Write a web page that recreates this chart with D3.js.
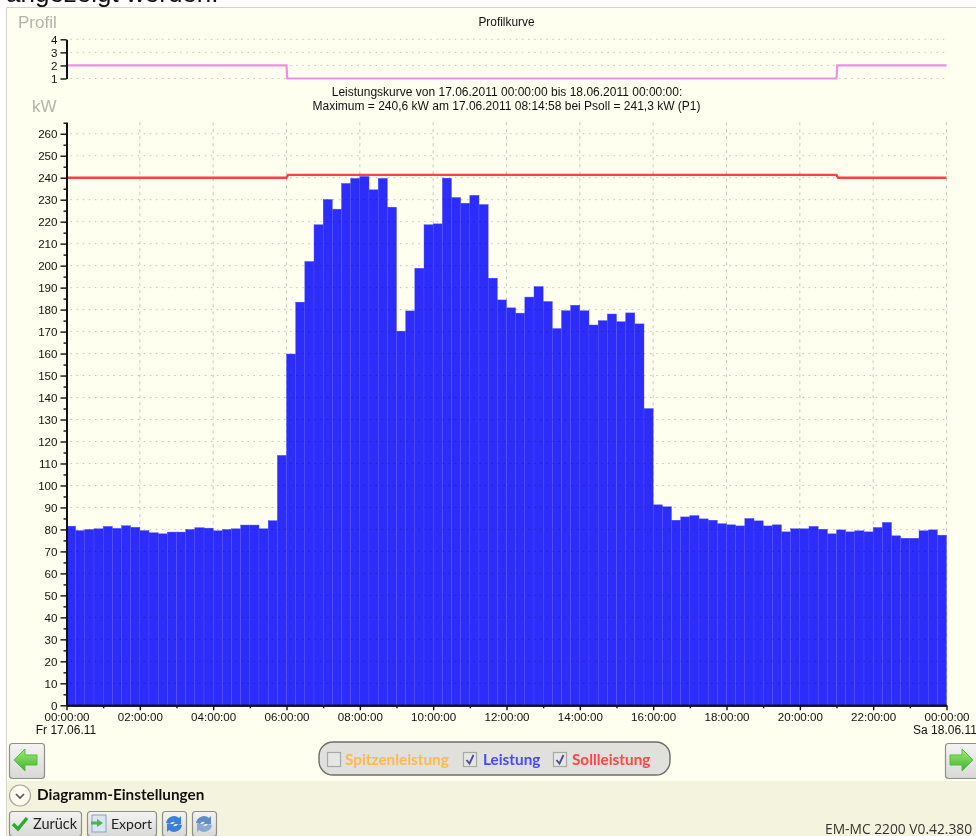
<!DOCTYPE html>
<html>
<head>
<meta charset="utf-8">
<title>Leistungskurve</title>
<script src="https://cdn.jsdelivr.net/npm/d3@7"></script>
<style>
  html, body { margin: 0; padding: 0; background: #fff; overflow: hidden; }
  svg { display: block; filter: blur(0.35px); }
  text { font-family: "Liberation Sans", Arial, sans-serif; fill: #111; }
  .tick text { font-size: 11.6px; }
  .ui { font-family: Lato, "Open Sans", sans-serif; }
</style>
</head>
<body>
<div id="my_dataviz"></div>
<script>
// Data
// Leistung in kW, one value for each 15 minutes of the day
var leistung = [
  81.5, 79.5, 80, 80.3, 81.4, 80.5, 81.7, 81, 79.5, 78.5, 78, 78.8,
  78.8, 80, 80.8, 80.6, 79.4, 80, 80.3, 82, 82, 80.3, 84, 113.7,
  159.8, 183.4, 201.9, 218.6, 230.1, 225.7, 237.4, 239.7, 240.6, 234.5, 239.7, 226.6,
  170.2, 179.4, 198.8, 218.6, 219, 239.8, 231, 228.4, 232, 227.8, 194.3, 184.4,
  180.8, 178.4, 185.7, 190.5, 183.7, 171.4, 179.5, 182, 179.5, 173, 175, 178,
  174.5, 178.5, 173.5, 135, 91.2, 90.3, 84.2, 85.7, 86.3, 84.8, 84.2, 82.6,
  82.1, 81.6, 85, 83.9, 81.6, 82.1, 78.9, 80.3, 80.3, 81.4, 80.1, 78,
  79.8, 78.9, 79.4, 78.9, 80.9, 83.2, 77.1, 76, 76, 79.4, 79.8, 77.4
];

// Sollleistung, hours of the day and kW
var sollStunden = [0, 6, 6.04, 21, 21.04, 24];
var sollWerte = [240, 240, 241.3, 241.3, 240, 240];

// Profil, hours of the day and profile number
var profilStunden = [0, 6, 6.02, 21, 21.02, 24];
var profilWerte = [2, 2, 1, 1, 2, 2];

var profilTicks = [1, 2, 3, 4];
var leistungTicks = d3.range(0, 261, 10);
var leistungMinorTicks = d3.range(5, 266, 10);
var legendLabels = ["Spitzenleistung", "Leistung", "Sollleistung"];

var width = 976, height = 836;
var chartLeft = 66.5, chartRight = 946.5;

var svg = d3.select("#my_dataviz")
  .append("svg")
    .attr("width", width)
    .attr("height", height);

// Gradients for the arrow buttons
var defs = svg.append("defs");
var green = defs.append("linearGradient").attr("id", "green").attr("x2", 0).attr("y2", 1);
green.append("stop").attr("offset", 0).attr("stop-color", "#a4ee70");
green.append("stop").attr("offset", 1).attr("stop-color", "#3cb034");
var btn = defs.append("linearGradient").attr("id", "btn").attr("x2", 0).attr("y2", 1);
btn.append("stop").attr("offset", 0).attr("stop-color", "#f4f4f2");
btn.append("stop").attr("offset", 1).attr("stop-color", "#d8d8d6");

// Window background
svg.append("text").attr("x", 6).attr("y", 2)
  .style("font-size", "26px").text("angezeigt werden.");
svg.append("rect").attr("x", 6).attr("y", 8).attr("width", 970).attr("height", 828)
  .attr("fill", "#fffff0");
svg.append("path").attr("d", "M6.5,836V7.5H976").attr("fill", "none").attr("stroke", "#d4d4c8");
svg.append("rect").attr("x", 7).attr("y", 781).attr("width", 969).attr("height", 55)
  .attr("fill", "#f4f4de");

// Scales
var start = new Date(2011, 5, 17, 0, 0, 0);
var end = new Date(2011, 5, 18, 0, 0, 0);
function stunde(h) { return new Date(start.getTime() + h * 3600000); }

var x = d3.scaleTime().domain([start, end]).range([chartLeft, chartRight]);
var y = d3.scaleLinear().domain([0, 265.2]).range([705.3, 122.3]);
var yProfil = d3.scaleLinear().domain([1, 4]).range([78.5, 39.3]);

var twoHours = d3.range(0, 25, 2).map(stunde);
var oddHours = d3.range(1, 24, 2).map(stunde);

// Vertical grid, behind the bars
svg.append("g").selectAll("line")
  .data(twoHours.slice(1))
  .enter()
  .append("line")
    .attr("x1", function(d) { return x(d); })
    .attr("x2", function(d) { return x(d); })
    .attr("y1", y(265.2))
    .attr("y2", y(0))
    .attr("stroke", "#c8c8bc")
    .attr("stroke-dasharray", "3 4");

// Bars
svg.append("g").selectAll("rect")
  .data(leistung)
  .enter()
  .append("rect")
    .attr("x", function(d, i) { return x(stunde(i / 4)); })
    .attr("y", function(d) { return y(d); })
    .attr("width", function(d, i) { return x(stunde((i + 1) / 4)) - x(stunde(i / 4)); })
    .attr("height", function(d) { return y(0) - y(d); })
    .attr("fill", "#2d2dfb")
    .attr("stroke", "#4f4fff")
    .attr("stroke-width", 0.4);

// Horizontal grids, they stay visible over the bars
function hGrid(values, scale) {
  svg.append("g").selectAll("line")
    .data(values)
    .enter()
    .append("line")
      .attr("x1", chartLeft + 4)
      .attr("x2", chartRight)
      .attr("y1", function(d) { return scale(d); })
      .attr("y2", function(d) { return scale(d); })
      .attr("stroke", "#000")
      .attr("stroke-opacity", 0.24)
      .attr("stroke-dasharray", "1.5 4.6");
}
hGrid(leistungTicks.slice(1), y);
hGrid(profilTicks, yProfil);

// Soll and profile lines
var sollLine = d3.line()
  .x(function(d) { return x(stunde(d)); })
  .y(function(d, i) { return y(sollWerte[i]); });
svg.append("path")
  .attr("d", sollLine(sollStunden))
  .attr("fill", "none")
  .attr("stroke", "#ff4040")
  .attr("stroke-width", 2.4);

var profilLine = d3.line()
  .x(function(d) { return x(stunde(d)); })
  .y(function(d, i) { return yProfil(profilWerte[i]); });
svg.append("path")
  .attr("d", profilLine(profilStunden))
  .attr("fill", "none")
  .attr("stroke", "#ee8ee6")
  .attr("stroke-width", 2.2);

// Axes
function styleAxis(g) {
  g.selectAll("path, line").attr("stroke", "#111");
  g.select(".domain").attr("stroke-width", 2);
  g.selectAll(".tick line").attr("stroke-width", 1.4);
  g.attr("font-family", null).attr("font-size", null);
}

svg.append("g")
  .attr("transform", "translate(" + chartLeft + ",0)")
  .call(d3.axisLeft(y).tickValues(leistungMinorTicks).tickSize(3).tickSizeOuter(0).tickFormat(""))
  .call(styleAxis);
svg.append("g")
  .attr("transform", "translate(" + chartLeft + ",0)")
  .call(d3.axisLeft(y).tickValues(leistungTicks).tickSize(6).tickSizeOuter(0).tickPadding(3))
  .call(styleAxis);
svg.append("g")
  .attr("transform", "translate(" + chartLeft + ",0)")
  .call(d3.axisLeft(yProfil).tickValues(profilTicks).tickSize(6).tickSizeOuter(0).tickPadding(3)
    .tickFormat(d3.format("d")))
  .call(styleAxis);

svg.append("g")
  .attr("transform", "translate(0," + y(0) + ")")
  .call(d3.axisBottom(x).tickValues(oddHours).tickSize(3).tickSizeOuter(0).tickFormat(""))
  .call(styleAxis);
svg.append("g")
  .attr("transform", "translate(0," + y(0) + ")")
  .call(d3.axisBottom(x).tickValues(twoHours).tickSize(5).tickSizeOuter(0).tickPadding(2)
    .tickFormat(d3.timeFormat("%H:%M:%S")))
  .call(styleAxis);

svg.append("text").attr("x", 66).attr("y", 734).attr("text-anchor", "middle")
  .style("font-size", "12px").text("Fr 17.06.11");
svg.append("text").attr("x", 945).attr("y", 734).attr("text-anchor", "middle")
  .style("font-size", "12px").text("Sa 18.06.11");

// Titles
svg.append("text").attr("x", 18).attr("y", 28)
  .style("font-size", "17px").style("fill", "#b4b4ac").text("Profil");
svg.append("text").attr("x", 32).attr("y", 112)
  .style("font-size", "17px").style("fill", "#b4b4ac").text("kW");
svg.append("text").attr("x", 506.5).attr("y", 26).attr("text-anchor", "middle")
  .style("font-size", "11.9px").text("Profilkurve");
svg.append("text").attr("x", 507).attr("y", 95.5).attr("text-anchor", "middle")
  .style("font-size", "12px").text("Leistungskurve von 17.06.2011 00:00:00 bis 18.06.2011 00:00:00:");
svg.append("text").attr("x", 506.5).attr("y", 110).attr("text-anchor", "middle")
  .style("font-size", "12px").text("Maximum = 240,6 kW am 17.06.2011 08:14:58 bei Psoll = 241,3 kW (P1)");

// Buttons
function button(bx, by, w, h, r) {
  svg.append("rect").attr("x", bx + 0.5).attr("y", by + 0.5).attr("width", w).attr("height", h)
    .attr("rx", r).attr("fill", "url(#btn)").attr("stroke", "#8e8e8a").attr("stroke-width", 1.2);
}
function arrow(cx, cy, dir) {
  var p = "M" + (cx - 12 * dir) + "," + cy +
    "L" + (cx - 1 * dir) + "," + (cy - 11) +
    "L" + (cx - 1 * dir) + "," + (cy - 5) +
    "L" + (cx + 11 * dir) + "," + (cy - 5) +
    "L" + (cx + 11 * dir) + "," + (cy + 5) +
    "L" + (cx - 1 * dir) + "," + (cy + 5) +
    "L" + (cx - 1 * dir) + "," + (cy + 11) + "Z";
  svg.append("path").attr("d", p).attr("fill", "url(#green)")
    .attr("stroke", "#58b848").attr("stroke-width", 1);
}
button(9, 743, 35, 35, 3);
arrow(26, 760, 1);
button(945, 743, 40, 35, 3);
arrow(961, 760, -1);

// Legend
svg.append("rect").attr("x", 319).attr("y", 742).attr("width", 351).attr("height", 33)
  .attr("rx", 14).attr("fill", "#e0e0dc").attr("stroke", "#6e6e68").attr("stroke-width", 1.4);

var legendX = [327, 463, 553];
var legendTextX = [345, 483, 572];
var legendColors = ["#ffb84a", "#4848ff", "#ff4646"];
var legendChecked = [false, true, true];

legendLabels.forEach(function(label, i) {
  svg.append("rect").attr("x", legendX[i] + 0.5).attr("y", 752.5).attr("width", 13).attr("height", 14)
    .attr("fill", "#e6e6e4").attr("stroke", "#a8a8a4").attr("stroke-width", 1.2);
  if (legendChecked[i]) {
    svg.append("path")
      .attr("d", "M" + (legendX[i] + 3.5) + ",760l3,3.5l4,-8.5")
      .attr("fill", "none").attr("stroke", "#4a4a90").attr("stroke-width", 1.8);
  }
  svg.append("text").attr("class", "ui").attr("x", legendTextX[i]).attr("y", 765)
    .style("font-size", "15.3px").style("font-weight", 700).style("fill", legendColors[i])
    .text(label);
});

// Settings row
svg.append("circle").attr("cx", 20).attr("cy", 795.5).attr("r", 10.5)
  .attr("fill", "#fbfbf0").attr("stroke", "#a8a89e").attr("stroke-width", 1.2);
svg.append("path").attr("d", "M16,794l4,4l4,-4").attr("fill", "none")
  .attr("stroke", "#555").attr("stroke-width", 1.6);
svg.append("text").attr("class", "ui").attr("x", 37).attr("y", 800)
  .style("font-size", "15.3px").style("font-weight", 700).text("Diagramm-Einstellungen");

// Toolbar
button(9, 811, 72, 25, 3);
svg.append("path").attr("d", "M13,824l5,5l9,-11").attr("fill", "none")
  .attr("stroke", "#2ea82e").attr("stroke-width", 3.4);
svg.append("text").attr("class", "ui").attr("x", 33).attr("y", 829)
  .style("font-size", "14.5px").style("fill", "#222").text("Zurück");

button(87, 811, 69, 25, 3);
svg.append("rect").attr("x", 92).attr("y", 815).attr("width", 14).attr("height", 17)
  .attr("fill", "#dbe6f4").attr("stroke", "#8aa0c0");
svg.append("path").attr("d", "M103,823l-6,-4v2.5h-6v3h6v2.5z").attr("fill", "#46b846");
svg.append("text").attr("class", "ui").attr("x", 111).attr("y", 829)
  .style("font-size", "14px").style("fill", "#222").text("Export");

[162, 192].forEach(function(bx, i) {
  button(bx, 811, 24, 25, 3);
  var cx = bx + 12, cy = 824;
  svg.append("path").attr("d", "M" + (cx - 8) + "," + (cy - 1) + "a8,8 0 0 1 13,-5l2,-2v8h-8l2,-2a4,4 0 0 0 -5,2z")
    .attr("fill", i ? "#5f8cc8" : "#3b80d8");
  svg.append("path").attr("d", "M" + (cx + 8) + "," + (cy + 1) + "a8,8 0 0 1 -13,5l-2,2v-8h8l-2,2a4,4 0 0 0 5,-2z")
    .attr("fill", i ? "#8aa8d4" : "#3b80d8");
});

svg.append("text").attr("x", 825).attr("y", 833.5)
  .style("font-family", "'Open Sans', sans-serif").style("font-size", "13.8px").style("fill", "#333")
  .text("EM-MC 2200 V0.42.380");
</script>
</body>
</html>
